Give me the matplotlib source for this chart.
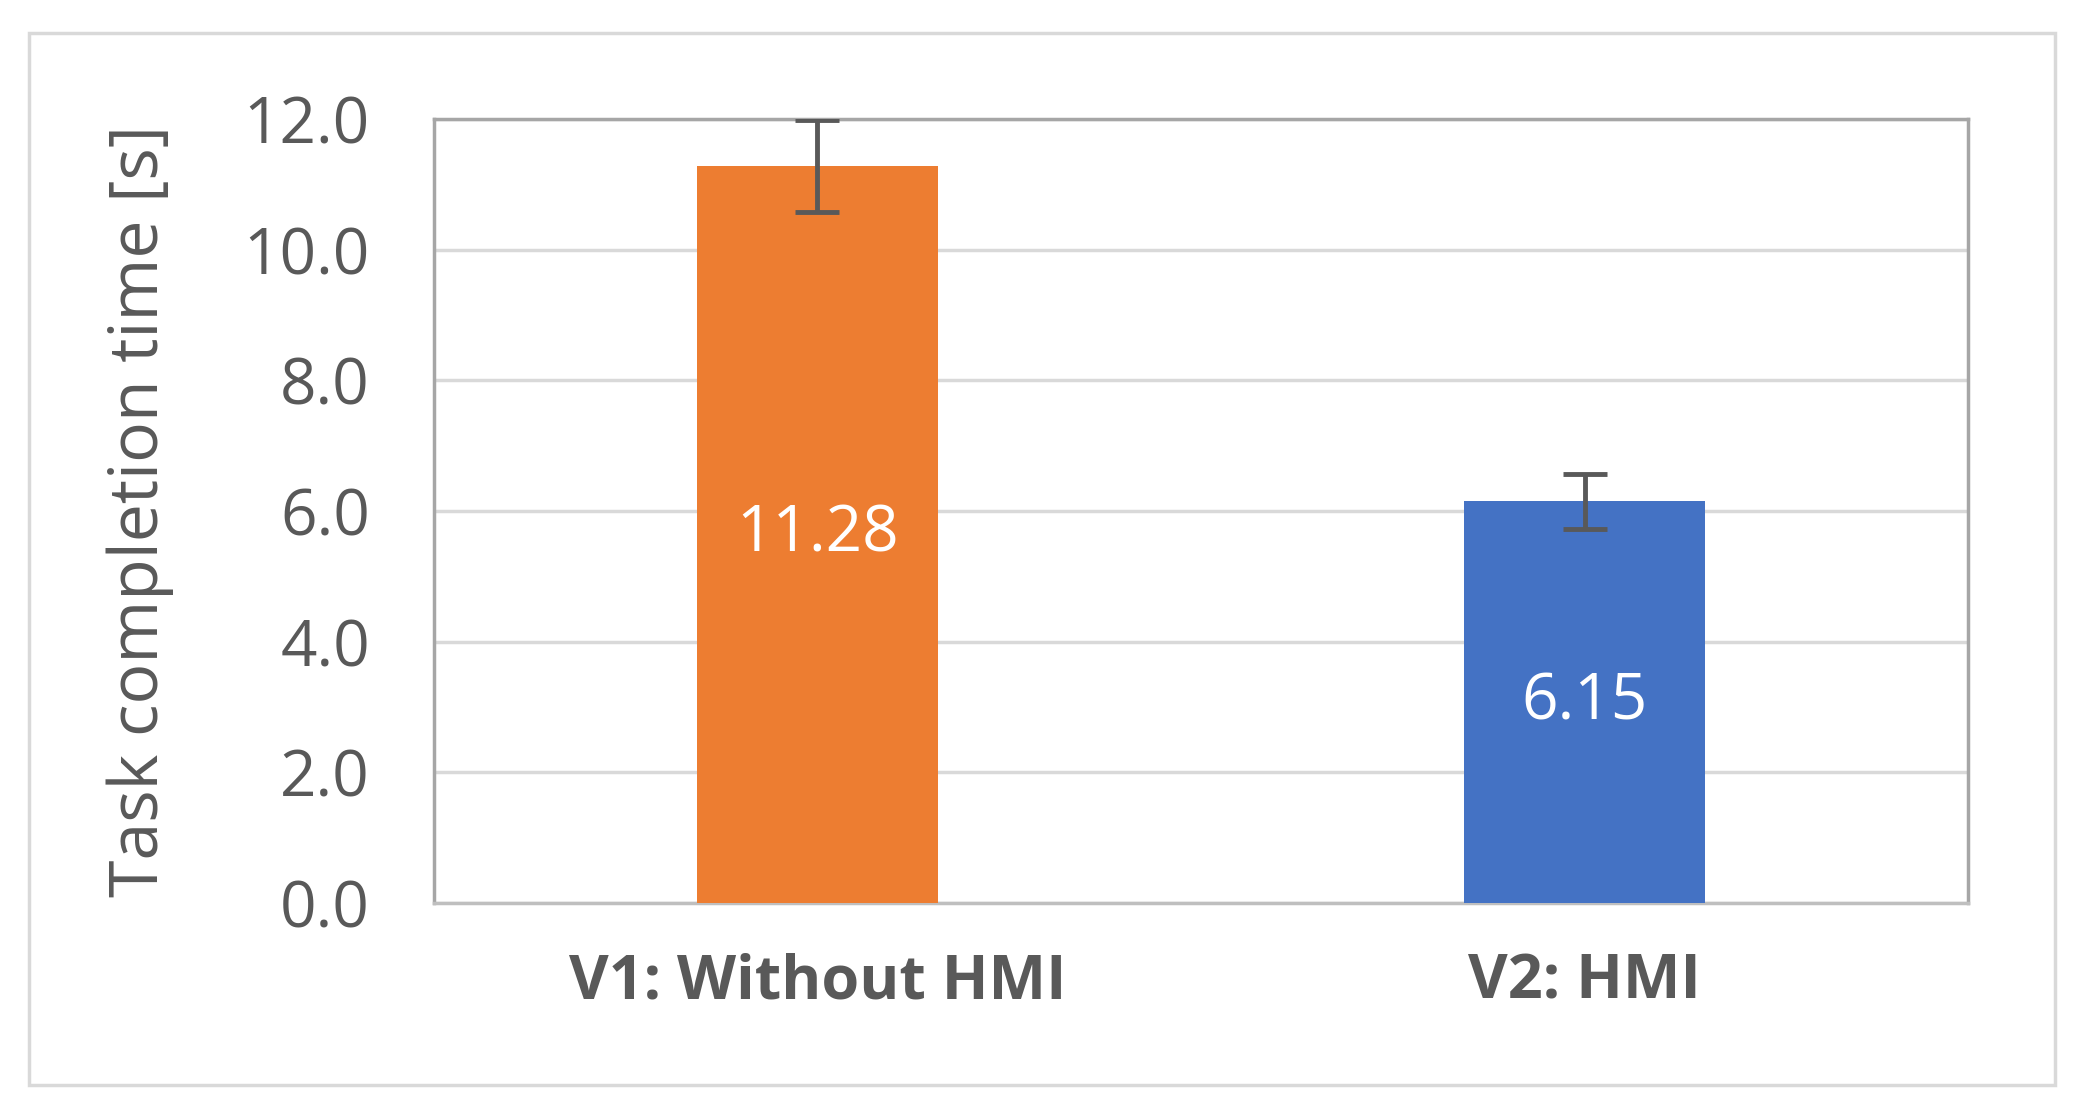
import matplotlib
matplotlib.use("Agg")
import matplotlib.pyplot as plt
from matplotlib.patches import Rectangle

plt.rcParams['font.family'] = ['Open Sans', 'DejaVu Sans']

# data
categories = ["V1: Without HMI", "V2: HMI"]
means = [11.28, 6.15]
errors = [0.70, 0.42]
colors = ["#ED7D31", "#4472C4"]
yticks = [0, 2, 4, 6, 8, 10, 12]

fig = plt.figure(figsize=(20.76, 11.12), dpi=100)
fig.patches.append(Rectangle((0.014, 0.024), 0.976, 0.946, transform=fig.transFigure,
                             fill=False, edgecolor="#D9D9D9", linewidth=2.5))
ax = fig.add_axes([0.209, 0.188, 0.739, 0.705])

x = range(len(categories))
ax.bar(x, means, width=0.314, color=colors, zorder=3)
ax.errorbar(x, means, yerr=errors, fmt="none", ecolor="#595959",
            elinewidth=3.5, capsize=16, capthick=3.5, zorder=4)
for xi, m in zip(x, means):
    ax.text(xi, m / 2, "%.2f" % m,
            ha="center", va="center", color="white", fontsize=46, zorder=5)

ax.set_xlim(-0.5, 1.5)
ax.set_ylim(0, 12)
ax.set_yticks(yticks)
ax.set_yticklabels(["%.1f" % t for t in yticks])
ax.yaxis.grid(True, color="#D9D9D9", linewidth=2.5, zorder=0)
ax.set_xticks(list(x))
ax.set_xticklabels(categories, fontsize=44, fontweight="bold", color="#595959")
ax.tick_params(axis="y", labelsize=46, labelcolor="#595959", length=0, pad=46)
ax.tick_params(axis="x", length=0, pad=36)
ax.set_ylabel("Task completion time [s]", fontsize=49, color="#595959", labelpad=50)
for s in ax.spines.values():
    s.set_color("#A6A6A6")
    s.set_linewidth(2.5)
ax.spines["bottom"].set_color("#BFBFBF")

fig.savefig("out.png", dpi=100)
